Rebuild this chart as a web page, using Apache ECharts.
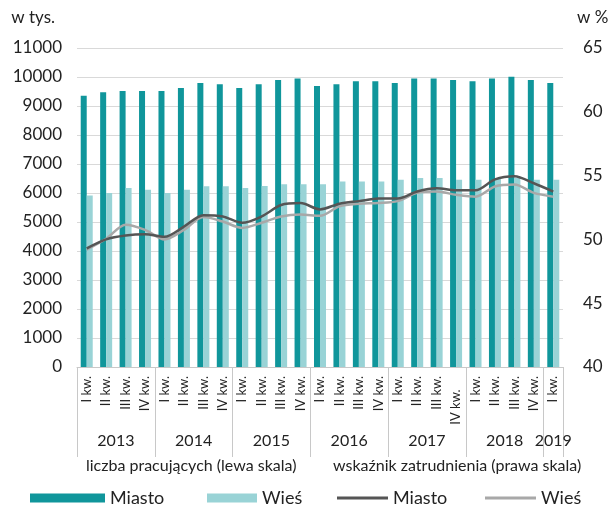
<!DOCTYPE html>
<html>
<head>
<meta charset="utf-8">
<script src="https://cdn.jsdelivr.net/npm/echarts@6/dist/echarts.min.js"></script>
<style>
html,body{margin:0;padding:0;background:#fff;}
#c{width:614px;height:511px;}
</style>
</head>
<body>
<div id="c"></div>
<script>
// ---- data ----
const quarters = ['I kw.','II kw.','III kw.','IV kw.','I kw.','II kw.','III kw.','IV kw.','I kw.','II kw.','III kw.','IV kw.','I kw.','II kw.','III kw.','IV kw.','I kw.','II kw.','III kw.','IV kw.','I kw.','II kw.','III kw.','IV kw.','I kw.'];
const years = ['2013','2014','2015','2016','2017','2018','2019'];
const quartersPerYear = [4,4,4,4,4,4,1];
const leftTicks = [0,1000,2000,3000,4000,5000,6000,7000,8000,9000,10000,11000];
const rightTicks = [40,45,50,55,60,65];
const workersCity = [9350,9470,9520,9520,9520,9620,9790,9750,9620,9750,9900,9950,9690,9750,9850,9850,9790,9950,9950,9900,9850,9950,10010,9900,9790];
const workersRural = [5910,6000,6170,6110,6000,6110,6230,6230,6170,6240,6300,6300,6300,6400,6400,6400,6460,6520,6520,6460,6460,6520,6520,6460,6460];
const rateCity = [49.3,50.0,50.3,50.4,50.2,51.0,51.9,51.8,51.3,51.8,52.7,52.85,52.35,52.8,53.0,53.2,53.2,53.75,54.0,53.85,53.85,54.7,54.95,54.4,53.75];
const rateRural = [49.2,50.05,51.15,50.75,50.0,50.75,51.75,51.4,50.9,51.3,51.8,51.95,51.85,52.6,52.8,52.85,53.0,53.65,53.75,53.5,53.35,54.15,54.3,53.65,53.35];
const captionLeft = 'liczba pracujących (lewa skala)';
const captionRight = 'wskaźnik zatrudnienia (prawa skala)';

// year boundaries & centres derived from quarter counts
const yearBounds = [0];
const yearCenters = [];
quartersPerYear.forEach((n, i) => { yearCenters.push(yearBounds[i] + n / 2); yearBounds.push(yearBounds[i] + n); });
const total = yearBounds[yearBounds.length - 1];

const FONT = 'Lato';
const TXT = '#222';
const C_DARK = '#10969b', C_LIGHT = '#99d3d6', L_DARK = '#555555', L_LIGHT = '#a8a8a8';
const nameOf = n => n.split(' (')[0];
const legendText = {fontSize: 18, color: TXT, fontFamily: FONT};

const chart = echarts.init(document.getElementById('c'), null, {renderer: 'canvas'});
chart.setOption({
  animation: false,
  textStyle: {fontFamily: FONT, color: TXT},
  grid: {left: 77, right: 51, top: 48, bottom: 144, containLabel: false},
  title: [
    {text: captionLeft, left: 86, top: 458, padding: 0, textStyle: {fontFamily: FONT, fontSize: 16, fontWeight: 'normal', color: TXT}},
    {text: captionRight, left: 333, top: 458, padding: 0, textStyle: {fontFamily: FONT, fontSize: 16, fontWeight: 'normal', color: TXT}}
  ],
  legend: [
    {data: ['Miasto (liczba)'], left: 30, top: 489, padding: 0, icon: 'rect', itemWidth: 75, itemHeight: 9, itemGap: 5, formatter: nameOf, textStyle: legendText},
    {data: ['Wieś (liczba)'], left: 207, top: 489, padding: 0, icon: 'rect', itemWidth: 50, itemHeight: 9, formatter: nameOf, textStyle: legendText},
    {data: ['Miasto (wskaźnik)'], left: 337, top: 489, padding: 0, icon: 'rect', itemWidth: 51, itemHeight: 3, formatter: nameOf, textStyle: legendText},
    {data: ['Wieś (wskaźnik)'], left: 485, top: 489, padding: 0, icon: 'rect', itemWidth: 51, itemHeight: 3, formatter: nameOf, textStyle: legendText}
  ],
  xAxis: [
    {
      type: 'category', data: quarters, boundaryGap: true,
      axisLine: {show: true, lineStyle: {color: '#c8c8c8', width: 1}},
      axisTick: {show: false},
      axisLabel: {
        interval: 0, rotate: 90, margin: 9, fontSize: 13, color: TXT, fontFamily: FONT,
        formatter: (v, i) => (i === 19 ? v + '    ' : v)
      }
    },
    {
      type: 'value', min: 0, max: total, position: 'bottom',
      axisLine: {show: false},
      splitLine: {show: false},
      axisTick: {show: true, customValues: yearBounds, length: 90, inside: false, lineStyle: {color: '#c8c8c8', width: 1}},
      axisLabel: {
        customValues: yearCenters, margin: 66, fontSize: 16, color: TXT, fontFamily: FONT,
        formatter: v => { const i = yearCenters.indexOf(v); return i >= 0 ? years[i] : ''; }
      }
    }
  ],
  yAxis: [
    {
      type: 'value', min: leftTicks[0], max: leftTicks[leftTicks.length - 1], interval: leftTicks[1] - leftTicks[0],
      name: 'w tys.', nameLocation: 'end', nameGap: 22,
      nameTextStyle: {align: 'right', padding: [0, 22, 0, 0], fontSize: 17, color: TXT, fontFamily: FONT},
      axisLine: {show: false}, axisTick: {show: false},
      axisLabel: {margin: 15, fontSize: 17, color: TXT, fontFamily: FONT, formatter: v => String(v)},
      splitLine: {show: true, lineStyle: {color: '#d9d9d9', width: 1}}
    },
    {
      type: 'value', min: rightTicks[0], max: rightTicks[rightTicks.length - 1], interval: rightTicks[1] - rightTicks[0],
      name: 'w %', nameLocation: 'end', nameGap: 22, position: 'right',
      nameTextStyle: {align: 'left', padding: [0, 0, 0, 14], fontSize: 17, color: TXT, fontFamily: FONT},
      axisLine: {show: false}, axisTick: {show: false},
      axisLabel: {margin: 20, fontSize: 17, color: TXT, fontFamily: FONT, formatter: v => String(v)},
      splitLine: {show: false}
    }
  ],
  series: [
    {name: 'Miasto (liczba)', type: 'bar', xAxisIndex: 0, yAxisIndex: 0, data: workersCity, barWidth: 6, barGap: '0%', itemStyle: {color: C_DARK}},
    {name: 'Wieś (liczba)', type: 'bar', xAxisIndex: 0, yAxisIndex: 0, data: workersRural, barWidth: 6, barGap: '0%', itemStyle: {color: C_LIGHT}},
    {name: 'Miasto (wskaźnik)', type: 'line', xAxisIndex: 0, yAxisIndex: 1, data: rateCity, smooth: 0.3, symbol: 'none', lineStyle: {color: L_DARK, width: 2.5}, itemStyle: {color: L_DARK}, z: 5},
    {name: 'Wieś (wskaźnik)', type: 'line', xAxisIndex: 0, yAxisIndex: 1, data: rateRural, smooth: 0.3, symbol: 'none', lineStyle: {color: L_LIGHT, width: 2.5}, itemStyle: {color: L_LIGHT}, z: 4}
  ]
});
</script>
</body>
</html>
